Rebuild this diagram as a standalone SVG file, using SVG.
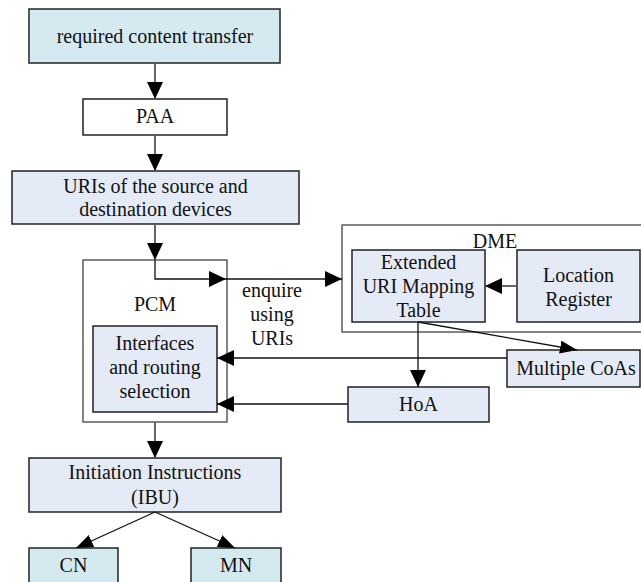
<svg xmlns="http://www.w3.org/2000/svg" width="641" height="582" viewBox="0 0 641 582">
<defs>
<style>
.box{stroke:#222;stroke-width:1.5}
.blue{fill:#E5EBF6}
.cyan{fill:#D5EAF0}
.white{fill:#fff}
.grp{fill:none;stroke:#444;stroke-width:1.3}
.c1{fill:none;stroke:#666;stroke-width:2}
.c2{fill:none;stroke:#111;stroke-width:1.3}
</style>
<marker id="ab" markerUnits="userSpaceOnUse" markerWidth="18" markerHeight="16" refX="17" refY="8" orient="auto"><path d="M0,0 L17,8 L0,16 Z" fill="#000"/></marker>
<marker id="as" markerUnits="userSpaceOnUse" markerWidth="18" markerHeight="14" refX="17" refY="6.5" orient="auto"><path d="M0,0 L17,6.5 L0,13 Z" fill="#000"/></marker>
</defs>
<rect width="641" height="582" fill="#fff"/>
<g font-family="Liberation Serif, DejaVu Serif, serif" font-size="20" fill="#111" text-anchor="middle">
<g id="rct"><rect class="box cyan" x="29" y="9" width="251" height="54"/><text x="155" y="43">required content transfer</text></g>
<g id="paa"><rect class="box white" x="83" y="99" width="144" height="36"/><text x="155" y="123">PAA</text></g>
<g id="uris"><rect class="box blue" x="12" y="171" width="287" height="53"/><text x="155.5" y="193">URIs of the source and</text><text x="155.5" y="216">destination devices</text></g>
<g id="pcm"><rect class="grp" x="83" y="260" width="144" height="162"/><text x="155" y="311">PCM</text></g>
<g id="interfaces"><rect class="box blue" x="93" y="326" width="124" height="86"/><text x="155" y="350">Interfaces</text><text x="155" y="374">and routing</text><text x="155" y="398">selection</text></g>
<g id="dme"><rect class="grp" x="342" y="225" width="300" height="107"/><text x="495" y="248">DME</text></g>
<g id="extended"><rect class="box blue" x="352" y="250" width="133" height="72"/><text x="418.5" y="269">Extended</text><text x="418.5" y="293">URI Mapping</text><text x="418.5" y="317">Table</text></g>
<g id="location"><rect class="box blue" x="517" y="250" width="123" height="72"/><text x="578.5" y="282">Location</text><text x="578.5" y="306">Register</text></g>
<g id="coas"><rect class="box blue" x="507" y="350" width="133" height="37"/><text x="576" y="375">Multiple CoAs</text></g>
<g id="hoa"><rect class="box blue" x="348" y="387" width="141" height="35"/><text x="418.5" y="411">HoA</text></g>
<g id="init"><rect class="box blue" x="29" y="458" width="252" height="54"/><text x="155" y="479">Initiation Instructions</text><text x="155" y="504">(IBU)</text></g>
<g id="cn"><rect class="box cyan" x="29" y="548" width="89" height="40"/><text x="73.5" y="572">CN</text></g>
<g id="mn"><rect class="box cyan" x="191" y="548" width="90" height="40"/><text x="236" y="572">MN</text></g>
<g id="enquire-label"><text x="272" y="297">enquire</text><text x="272" y="321">using</text><text x="272" y="345">URIs</text></g>
</g>
<g id="connectors">
<path class="c1" d="M155,63 V99" marker-end="url(#ab)"/>
<path class="c1" d="M155,135 V171" marker-end="url(#ab)"/>
<path class="c1" d="M155,224 V260" marker-end="url(#ab)"/>
<path class="c2" d="M155,260 V279 H226" marker-end="url(#ab)"/>
<path class="c2" d="M226,279 H342" marker-end="url(#ab)"/>
<path class="c1" d="M517,286 H485" marker-end="url(#ab)"/>
<path class="c2" d="M418,322 V387" marker-end="url(#ab)"/>
<path class="c2" d="M418,322 L577,350" marker-end="url(#as)"/>
<path class="c2" d="M507,358 H217" marker-end="url(#ab)"/>
<path class="c2" d="M348,404 H217" marker-end="url(#ab)"/>
<path class="c1" d="M155,422 V458" marker-end="url(#ab)"/>
<path class="c2" d="M155,512 L76,548" marker-end="url(#as)"/>
<path class="c2" d="M155,512 L235,548" marker-end="url(#as)"/>
</g>
</svg>
